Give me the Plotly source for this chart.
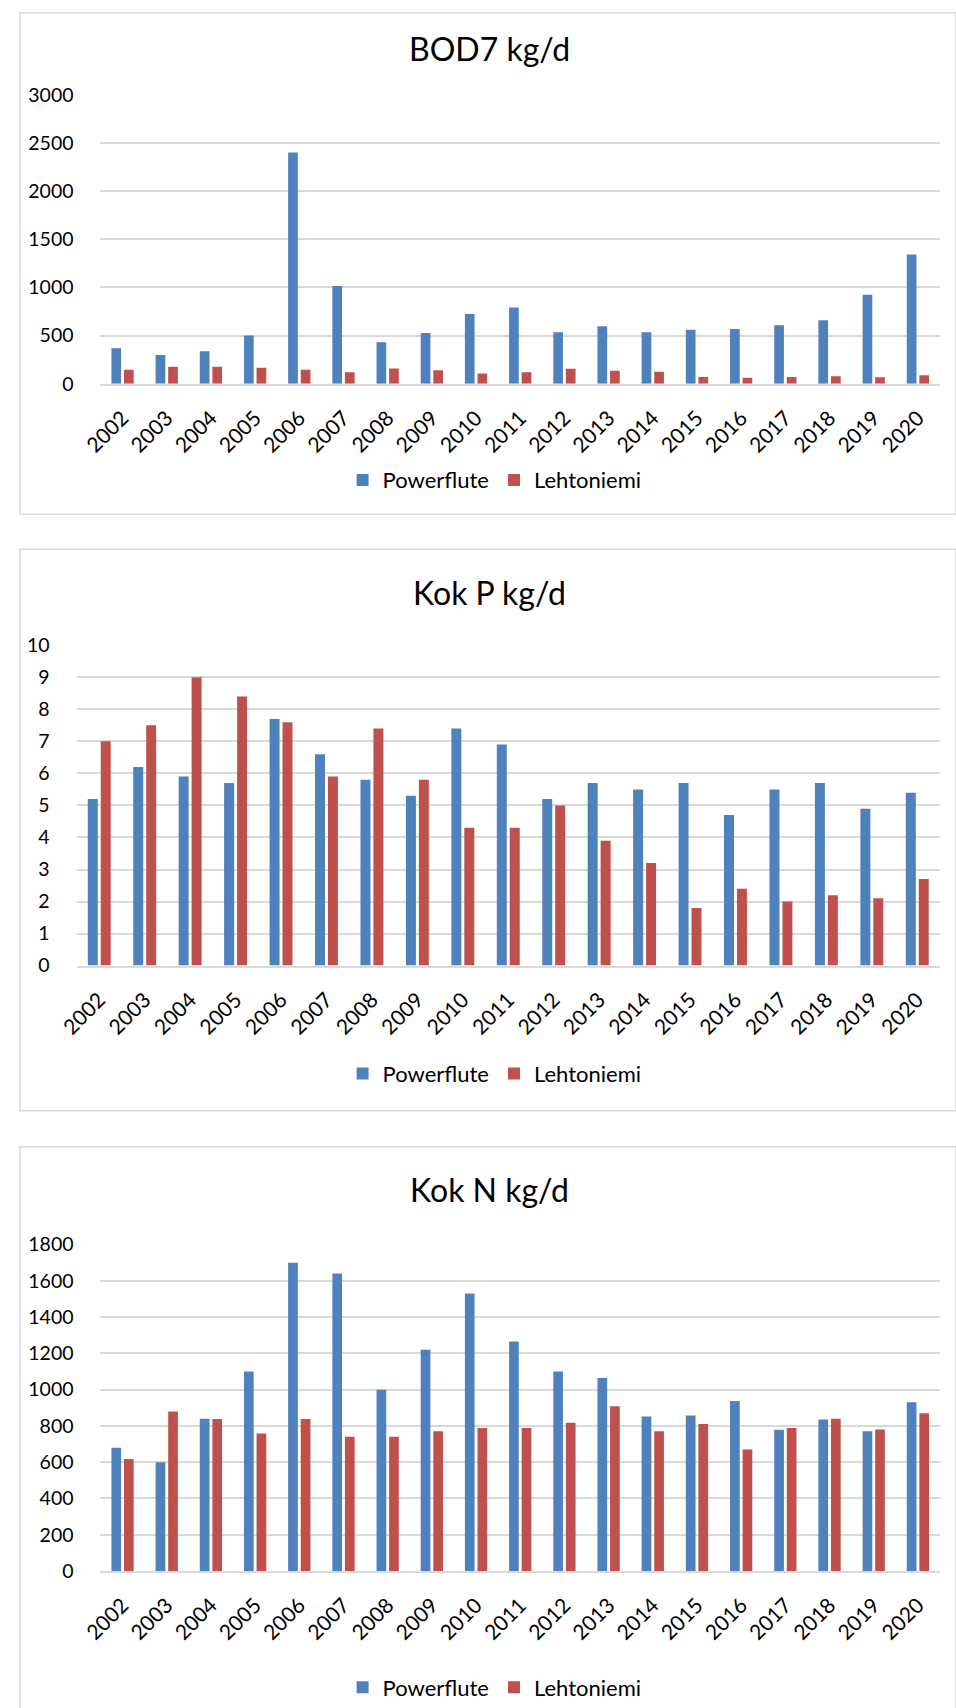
import plotly.graph_objects as go

# ---------------- data ----------------
years = ["2002", "2003", "2004", "2005", "2006", "2007", "2008", "2009", "2010", "2011",
         "2012", "2013", "2014", "2015", "2016", "2017", "2018", "2019", "2020"]

bod_powerflute = [367, 298, 336, 500, 2400, 1015, 430, 527, 724, 790,
                  534, 596, 534, 561, 568, 606, 658, 922, 1341]
bod_lehtoniemi = [145, 177, 177, 166, 145, 118, 159, 139, 107, 118,
                  156, 135, 125, 69, 62, 69, 76, 66, 87]

p_powerflute = [5.2, 6.2, 5.9, 5.7, 7.7, 6.6, 5.8, 5.3, 7.4, 6.9,
                5.2, 5.7, 5.5, 5.7, 4.7, 5.5, 5.7, 4.9, 5.4]
p_lehtoniemi = [7.0, 7.5, 9.0, 8.4, 7.6, 5.9, 7.4, 5.8, 4.3, 4.3,
                5.0, 3.9, 3.2, 1.8, 2.4, 2.0, 2.2, 2.1, 2.7]

n_powerflute = [680, 600, 840, 1100, 1700, 1640, 1000, 1220, 1530, 1266,
                1100, 1064, 852, 858, 937, 779, 836, 770, 930]
n_lehtoniemi = [618, 880, 838, 758, 838, 740, 740, 770, 788, 788,
                818, 909, 770, 810, 670, 788, 840, 780, 870]

titles = ["BOD7 kg/d", "Kok P kg/d", "Kok N kg/d"]
series_names = ["Powerflute", "Lehtoniemi"]
y_max = [3000, 10, 1800]
y_step = [500, 1, 200]

# ---------------- styling / layout ----------------
W, H = 956, 1722
# measured mapping between page pixels and the photographed picture
AX, SX = 15.0, 0.983
AY, SY = 11.4, 0.9856
BLUE = "#4F81BD"
RED = "#C0504D"
GRID = "#D9D9D9"
FONT = "Lato, Calibri, Carlito, sans-serif"


def fx(t):
    return max(0.0, min(1.0, ((t - AX) / SX) / W))


def fy(t):
    return max(0.0, min(1.0, 1 - ((t - AY) / SY) / H))


# target geometry (picture pixels) of each panel
panels = [
    dict(box=(9, 7, 980, 513), plot_x=(96.7, 938.7), plot_y=(94, 382.7), title_y=48, legend_y=479),
    dict(box=(9, 548, 980, 1109), plot_x=(72.7, 938.7), plot_y=(644, 964), title_y=591, legend_y=1072),
    dict(box=(9, 1145, 980, 1760), plot_x=(96.7, 938.7), plot_y=(1242.7, 1568.7), title_y=1188, legend_y=1685),
]

data_sets = [
    (bod_powerflute, bod_lehtoniemi),
    (p_powerflute, p_lehtoniemi),
    (n_powerflute, n_lehtoniemi),
]

fig = go.Figure()
layout_extra = {}
shapes = []
annotations = []

for i, (panel, (pf, lt)) in enumerate(zip(panels, data_sets)):
    k = "" if i == 0 else str(i + 1)
    xref = "x" + k
    yref = "y" + k
    leg = "legend" + k
    for name, vals, col in ((series_names[0], pf, BLUE), (series_names[1], lt, RED)):
        fig.add_trace(go.Bar(
            x=years, y=vals, name=name, marker=dict(color=col, line=dict(width=0)),
            xaxis=xref, yaxis=yref, legend=leg, showlegend=True,
        ))

    layout_extra["xaxis" + k] = dict(
        domain=[fx(panel["plot_x"][0]), fx(panel["plot_x"][1])],
        anchor=yref, type="category", showgrid=False,
        showline=True, linecolor=GRID, linewidth=1.5,
        tickangle=-45, ticks="outside", ticklen=12, tickcolor="rgba(0,0,0,0)",
        tickfont=dict(family=FONT, size=21, color="#000000"),
        fixedrange=True,
    )
    layout_extra["yaxis" + k] = dict(
        domain=[fy(panel["plot_y"][1]), fy(panel["plot_y"][0])],
        anchor=xref, range=[0, y_max[i]], dtick=y_step[i],
        showgrid=True, gridcolor=GRID, gridwidth=1.5,
        showline=False, zeroline=False,
        ticks="outside", ticklen=22, tickcolor="rgba(0,0,0,0)",
        tickfont=dict(family=FONT, size=19.5, color="#000000"),
        fixedrange=True,
    )
    layout_extra[leg] = dict(
        orientation="h", x=fx(492), xanchor="center",
        y=fy(panel["legend_y"]), yanchor="middle",
        font=dict(family=FONT, size=22, color="#000000"),
        bgcolor="rgba(0,0,0,0)", itemclick=False, itemdoubleclick=False,
    )
    x0, y0, x1, y1 = panel["box"]
    shapes.append(dict(type="rect", xref="paper", yref="paper",
                       x0=max(fx(x0), 0.8 / W), x1=fx(x1),
                       y0=fy(y1), y1=min(fy(y0), 1 - 0.8 / H),
                       line=dict(color=GRID, width=1.5), fillcolor="rgba(0,0,0,0)", layer="below"))
    annotations.append(dict(text=titles[i], xref="paper", yref="paper",
                            x=fx(487), y=fy(panel["title_y"]), xanchor="center", yanchor="middle",
                            showarrow=False, font=dict(family=FONT, size=32, color="#000000")))

fig.update_layout(
    width=W, height=H,
    margin=dict(l=0, r=0, t=0, b=0),
    paper_bgcolor="white", plot_bgcolor="white",
    barmode="group", bargap=0.43, bargroupgap=0.23,
    font=dict(family=FONT, color="#000000"),
    shapes=shapes, annotations=annotations,
    **layout_extra,
)

fig.write_html(
    "out.html",
    config={"displayModeBar": False},
    post_script="document.body.style.margin='0';document.body.style.overflow='hidden';",
)
